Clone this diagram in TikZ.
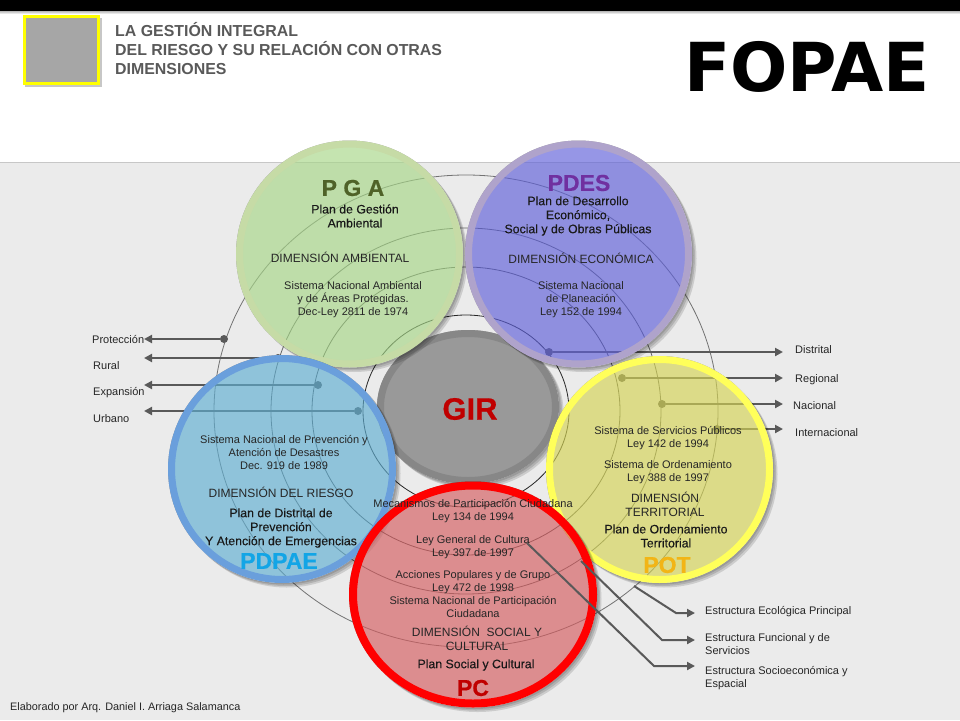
\documentclass[tikz,border=0pt]{standalone}
\usepackage{fontspec}
\setmainfont{Liberation Sans}
\newfontfamily\fakeb[FakeBold=0.2]{Liberation Sans}
\newfontfamily\heavyb[BoldFeatures={FakeBold=0.6}]{Liberation Sans}
\newfontfamily\titlefont{DejaVu Sans}
\usetikzlibrary{arrows.meta,shapes.geometric}
\definecolor{panel}{HTML}{EBEBEB}
\definecolor{linkc}{HTML}{595959}
\definecolor{ink}{HTML}{262626}
\definecolor{pgaR}{HTML}{C6DBA6}
\definecolor{pgaF}{HTML}{A6D687}
\definecolor{pdesR}{HTML}{AFA3CB}
\definecolor{pdesF}{HTML}{5E5FD9}
\definecolor{pdpR}{HTML}{6A9FDC}
\definecolor{pdpF}{HTML}{5FAED1}
\definecolor{potR}{HTML}{FFFF5A}
\definecolor{potF}{HTML}{D4D353}
\definecolor{pcF}{HTML}{D45C5F}
\definecolor{pureY}{HTML}{FFFF00}
\definecolor{pureR}{HTML}{FF0000}
\definecolor{darkR}{HTML}{C00000}
\definecolor{oliveT}{HTML}{4F6228}
\definecolor{violetT}{HTML}{7030A0}
\definecolor{skyT}{HTML}{12A5E6}
\definecolor{goldT}{HTML}{F2B516}
\newcommand{\softshadow}[4]{%
  \foreach \oo in {1.5,3,4.5}{%
    \fill[black,fill opacity=.13,even odd rule]
      (#1+\oo,#2+\oo) ellipse [x radius=#3pt,y radius=#4pt]
      (#1,#2) ellipse [x radius=#3pt,y radius=#4pt];}}
\tikzset{
  x=1pt,y=-1pt,
  disc/.style={ellipse,inner sep=0pt,outer sep=0pt,line width=7pt,fill opacity=.65},
  ring/.style={line width=.8pt},
  link/.style={line width=2pt,draw=linkc,-{Triangle[length=8pt,width=8pt]}},
  dotn/.style={circle,fill=linkc,inner sep=0pt,minimum size=8pt},
  small/.style={font=\fontsize{11}{13}\selectfont,text=ink,align=center,inner sep=0pt},
  dimn/.style={font=\fontsize{12}{14}\selectfont,text=ink,align=center,inner sep=0pt},
  plan/.style={font=\fakeb\fontsize{12.3}{14}\selectfont,text=black!90,align=center,inner sep=0pt},
  ttl/.style={font=\heavyb\bfseries\fontsize{23}{25}\selectfont,inner sep=0pt},
  lab/.style={font=\fontsize{11}{13}\selectfont,text=ink,align=left,anchor=west,inner sep=0pt},
}
\begin{document}
\begin{tikzpicture}
\useasboundingbox (0,0) rectangle (960,720);
% page
\fill[white] (0,0) rectangle (960,720);
\fill[panel] (0,162) rectangle (960,720);
\draw[line width=1pt,draw=black!22] (0,162) -- (960,162);
\fill[top color=black!28,bottom color=white] (0,11) rectangle (960,14);
\fill[black] (0,0) rectangle (960,11);
% header
\fill[black!22] (25,18) rectangle (102,87);
\node[draw=pureY,fill=black!35,line width=3pt,minimum width=74pt,minimum height=67pt,inner sep=0pt,anchor=north west] (sq) at (23,15) {};
\node[font=\bfseries\fontsize{15.9}{19}\selectfont,text=linkc,align=left,anchor=west,inner sep=0pt] (head) at (115,49)
  {LA GESTIÓN INTEGRAL\\DEL RIESGO Y SU RELACIÓN CON OTRAS\\DIMENSIONES};
\node[font=\titlefont\bfseries\fontsize{67.5}{70}\selectfont,text=black,inner sep=0pt] (fopae) at (807,67) {FOPAE};
% concentric rings
\draw[ring,draw=black!55] (466,411) ellipse [x radius=252pt,y radius=236pt];
\draw[ring,draw=black!60] (466,411) ellipse [x radius=195pt,y radius=183pt];
\draw[ring,draw=black!65] (466,411) ellipse [x radius=154pt,y radius=144pt];
\draw[ring,draw=black!85] (466,411) ellipse [x radius=103pt,y radius=96pt];
% dots and arrows
\node[dotn] (dPro) at (224,339) {};
\node[dotn] (dRur) at (278,358) {};
\node[dotn] (dExp) at (318,385) {};
\node[dotn] (dUrb) at (358,411) {};
\node[dotn] (dDis) at (549,352) {};
\node[dotn] (dReg) at (622,378) {};
\node[dotn] (dNac) at (662,404) {};
\node[dotn] (dInt) at (717,429) {};
\coordinate (tPro) at (144,339);
\coordinate (tRur) at (144,358);
\coordinate (tExp) at (144,385);
\coordinate (tUrb) at (144,411);
\coordinate (tDis) at (783,352);
\coordinate (tReg) at (783,378);
\coordinate (tNac) at (783,404);
\coordinate (tInt) at (783,429);
\draw[link] (dPro) -- (tPro);
\draw[link] (dRur) -- (tRur);
\draw[link] (dExp) -- (tExp);
\draw[link] (dUrb) -- (tUrb);
\draw[link] (dDis) -- (tDis);
\draw[link] (dReg) -- (tReg);
\draw[link] (dNac) -- (tNac);
\draw[link] (dInt) -- (tInt);
% discs
\softshadow{468}{407}{91}{77}
\node[disc,draw=black!47,fill=black!40,fill opacity=1,minimum width=175pt,minimum height=147pt] (gir) at (468,407) {};
\softshadow{349.5}{254}{113.5}{113.5}
\node[disc,draw=pgaR,fill=pgaF,minimum width=220pt,minimum height=220pt] (pga) at (349.5,254) {};
\softshadow{578.5}{254}{113.5}{113.5}
\node[disc,draw=pdesR,fill=pdesF,minimum width=220pt,minimum height=220pt] (pdes) at (578.5,254) {};
\softshadow{282}{469}{114}{114}
\node[disc,draw=pdpR,fill=pdpF,minimum width=221pt,minimum height=221pt] (pdp) at (282,469) {};
\softshadow{659.5}{469.5}{113.5}{113.5}
\node[disc,draw=potR,fill=potF,minimum width=220pt,minimum height=220pt] (pot) at (659.5,469.5) {};
\softshadow{473}{594.5}{124}{113}
\node[disc,draw=pureR,fill=pcF,line width=8pt,minimum width=240pt,minimum height=218pt] (pc) at (473,594.5) {};
% elbow connectors
\coordinate (sEco) at (634,586);
\coordinate (bEco) at (676,613);
\coordinate (tEco) at (695,613);
\coordinate (sFun) at (581,561);
\coordinate (bFun) at (662,640);
\coordinate (tFun) at (695,640);
\coordinate (sSoc) at (527,543);
\coordinate (bSoc) at (654,666);
\coordinate (tSoc) at (695,666);
\draw[link] (sEco) -- (bEco) -- (tEco);
\draw[link] (sFun) -- (bFun) -- (tFun);
\draw[link] (sSoc) -- (bSoc) -- (tSoc);
\begin{scope}[yshift=-1pt]
% centre
\node[font=\heavyb\bfseries\fontsize{31}{33}\selectfont,text=darkR,inner sep=0pt] (girT) at (470,408) {GIR};
% PGA texts
\node[ttl,text=oliveT] (pgaT) at (353,187) {P G A};
\node[plan] (pgaP) at (355,215) {Plan de Gestión\\Ambiental};
\node[dimn] (pgaD) at (340,256) {DIMENSIÓN AMBIENTAL};
\node[small] (pgaS) at (353,299) {Sistema Nacional Ambiental\\y de Áreas Protegidas.\\Dec-Ley 2811 de 1974};
% PDES texts
\node[ttl,text=violetT] (pdesT) at (579,182) {PDES};
\node[plan] (pdesP) at (578,215) {Plan de Desarrollo\\Económico,\\Social y de Obras Públicas};
\node[dimn] (pdesD) at (581,257) {DIMENSIÓN ECONÓMICA};
\node[small] (pdesS) at (581,299) {Sistema Nacional\\de Planeación\\Ley 152 de 1994};
% PDPAE texts
\node[small] (pdpS) at (284,451) {Sistema Nacional de Prevención y\\Atención de Desastres\\Dec. 919 de 1989};
\node[dimn] (pdpD) at (281,491) {DIMENSIÓN DEL RIESGO};
\node[plan] (pdpP) at (281,527) {Plan de Distrital de\\Prevención\\Y Atención de Emergencias};
\node[ttl,text=skyT] (pdpT) at (279,560) {PDPAE};
% POT texts
\node[small] (potA) at (668,437.5) {Sistema de Servicios Públicos\\Ley 142 de 1994};
\node[small] (potB) at (668,471.5) {Sistema de Ordenamiento\\Ley 388 de 1997};
\node[dimn] (potD) at (665,503) {DIMENSIÓN\\TERRITORIAL};
\node[plan] (potP) at (666,535) {Plan de Ordenamiento\\Territorial};
\node[ttl,text=goldT] (potT) at (667,564) {POT};
% PC texts
\node[small] (pcA) at (473,510.5) {Mecanismos de Participación Ciudadana\\Ley 134 de 1994};
\node[small] (pcB) at (473,546) {Ley General de Cultura\\Ley 397 de 1997};
\node[small] (pcC) at (473,581.5) {Acciones Populares y de Grupo\\Ley 472 de 1998};
\node[small] (pcE) at (473,605.5) {Sistema Nacional de Participación\\Ciudadana};
\node[dimn] (pcD) at (477,637.5) {DIMENSIÓN\ \ SOCIAL Y\\CULTURAL};
\node[plan] (pcP) at (476,664) {Plan Social y Cultural};
\node[ttl,text=darkR] (pcT) at (473,687) {PC};
% side labels
\node[lab] (lPro) at (92,338) {Protección};
\node[lab] (lRur) at (93,365) {Rural};
\node[lab] (lExp) at (93,392) {Expansión};
\node[lab] (lUrb) at (93,418) {Urbano};
\node[lab] (lDis) at (795,349) {Distrital};
\node[lab] (lReg) at (795,379) {Regional};
\node[lab] (lNac) at (793,405) {Nacional};
\node[lab] (lInt) at (795,432) {Internacional};
\node[lab] (lEco) at (705,611) {Estructura Ecológica Principal};
\node[lab] (lFun) at (705,643.5) {Estructura Funcional y de\\Servicios};
\node[lab] (lSoc) at (705,677.5) {Estructura Socioeconómica y\\Espacial};
\node[lab,font=\fontsize{10.85}{13}\selectfont] (foot) at (10,707) {Elaborado por Arq. Daniel I. Arriaga Salamanca};
\end{scope}
\end{tikzpicture}
\end{document}
